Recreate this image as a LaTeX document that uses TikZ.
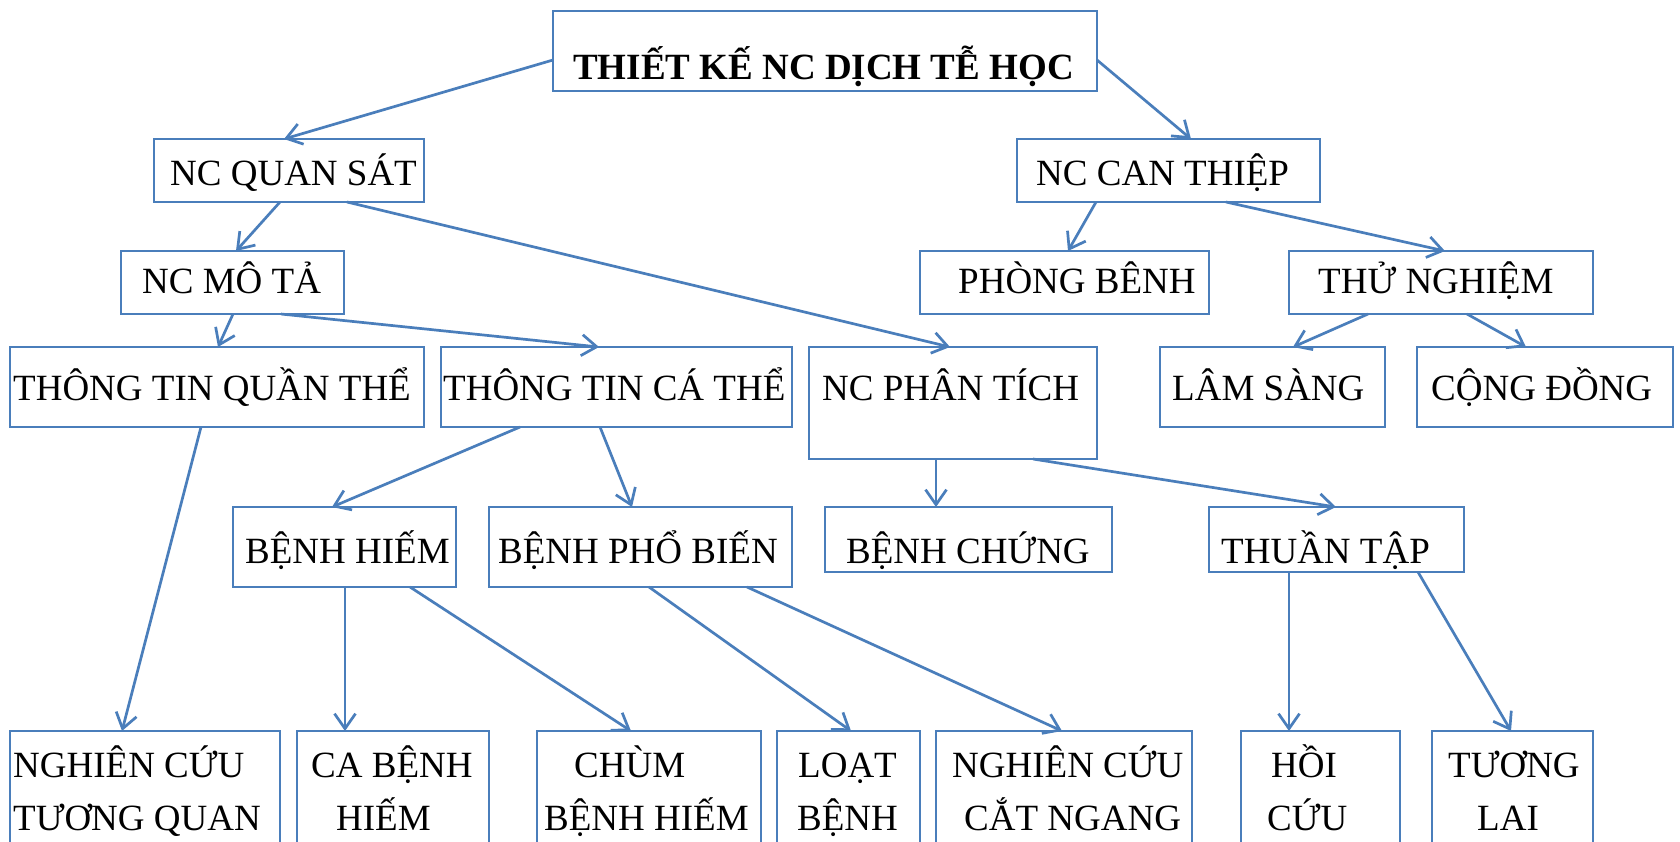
\documentclass[tikz,border=0pt]{standalone}
\usepackage{fontspec}
\setmainfont{Liberation Serif}
\usetikzlibrary{arrows.meta,calc}
\definecolor{ln}{HTML}{4A7EBB}
\newcommand\mkbox[5]{\node[bx, minimum width=#4, minimum height=#5] (#1) at (#2,#3) {};}
\begin{document}
\begin{tikzpicture}[x=1pt,y=-1pt,
  bx/.style={draw=ln, line width=2.9pt, rectangle, inner sep=0pt, outer sep=0pt, anchor=north west},
  txt/.style={inner sep=0pt, anchor=base west, font=\fontsize{37}{44}\selectfont},
  arr/.style={draw=ln, line width=2.7pt, -{Straight Barb[length=15pt,width=21pt]}}]
\useasboundingbox[fill=white] (0,0) rectangle (1680,841);
% boxes
\mkbox{title}{553}{11}{544}{80}
\mkbox{qs}{154}{139}{270}{63}
\mkbox{ct}{1017}{139}{303}{63}
\mkbox{mt}{121}{251}{223}{63}
\mkbox{pb}{920}{251}{289}{63}
\mkbox{tn}{1289}{251}{304}{63}
\mkbox{qt}{10}{347}{414}{80}
\mkbox{ca}{441}{347}{351}{80}
\mkbox{pt}{809}{347}{288}{112}
\mkbox{ls}{1160}{347}{225}{80}
\mkbox{cd}{1417}{347}{256}{80}
\mkbox{bh}{233}{507}{223}{80}
\mkbox{bpb}{489}{507}{303}{80}
\mkbox{bc}{825}{507}{287}{65}
\mkbox{tt}{1209}{507}{255}{65}
\mkbox{tq}{10}{731}{270}{159}
\mkbox{cbh}{297}{731}{192}{159}
\mkbox{chum}{537}{731}{224}{159}
\mkbox{loat}{777}{731}{143}{159}
\mkbox{cn}{936}{731}{256}{159}
\mkbox{hc}{1241}{731}{159}{159}
\mkbox{tl}{1432}{731}{161}{159}
% texts
\node[txt,font=\fontsize{37}{44}\selectfont\bfseries] (ttitle) at (573,79) {THIẾT KẾ NC DỊCH TỄ HỌC};
\node[txt] (tqs) at (170,185) {NC QUAN SÁT};
\node[txt] (tct) at (1036,185) {NC CAN THIỆP};
\node[txt] (tmt) at (142,293) {NC MÔ TẢ};
\node[txt] (tpb) at (958,293) {PHÒNG BÊNH};
\node[txt] (ttn) at (1318,293) {THỬ NGHIỆM};
\node[txt] (tqt) at (13,400) {THÔNG TIN QUẦN THỂ};
\node[txt] (tca) at (443,400) {THÔNG TIN CÁ THỂ};
\node[txt] (tpt) at (822,400) {NC PHÂN TÍCH};
\node[txt] (tls) at (1172,400) {LÂM SÀNG};
\node[txt] (tcd) at (1431,400) {CỘNG ĐỒNG};
\node[txt] (tbh) at (245,563) {BỆNH HIẾM};
\node[txt] (tbpb) at (498,563) {BỆNH PHỔ BIẾN};
\node[txt] (tbc) at (846,563) {BỆNH CHỨNG};
\node[txt] (ttt) at (1221,563) {THUẦN TẬP};
\node[txt] (ttqa) at (13,777) {NGHIÊN CỨU};
\node[txt] (ttqb) at (13,830) {TƯƠNG QUAN};
\node[txt] (tcbha) at (311,777) {CA BỆNH};
\node[txt] (tcbhb) at (336,830) {HIẾM};
\node[txt] (tchuma) at (574,777) {CHÙM};
\node[txt] (tchumb) at (544,830) {BỆNH HIẾM};
\node[txt] (tloata) at (798,777) {LOẠT};
\node[txt] (tloatb) at (797,830) {BỆNH};
\node[txt] (tcna) at (952,777) {NGHIÊN CỨU};
\node[txt] (tcnb) at (964,830) {CẮT NGANG};
\node[txt] (thca) at (1271,777) {HỒI};
\node[txt] (thcb) at (1267,830) {CỨU};
\node[txt] (ttla) at (1448,777) {TƯƠNG};
\node[txt] (ttlb) at (1477,830) {LAI};
% connectors
\draw[arr] ($(title.north west)+(0,49)$) -- ($(qs.north west)+(130,0)$);
\draw[arr] ($(title.north east)+(0,49)$) -- ($(ct.north west)+(174,0)$);
\draw[arr] ($(qs.south west)+(126,0)$) -- ($(mt.north west)+(115,0)$);
\draw[arr] ($(qs.south west)+(193,0)$) -- ($(pt.north west)+(141,0)$);
\draw[arr] ($(mt.south west)+(112,0)$) -- ($(qt.north west)+(208,0)$);
\draw[arr] ($(mt.south west)+(160,0)$) -- ($(ca.north west)+(158,0)$);
\draw[arr] ($(ct.south west)+(79,0)$) -- ($(pb.north west)+(148,0)$);
\draw[arr] ($(ct.south west)+(209,0)$) -- ($(tn.north west)+(156,0)$);
\draw[arr] ($(tn.south west)+(79,0)$) -- ($(ls.north west)+(133,0)$);
\draw[arr] ($(tn.south west)+(178,0)$) -- ($(cd.north west)+(109,0)$);
\draw[arr] ($(qt.south west)+(191,0)$) -- ($(tq.north west)+(112,0)$);
\draw[arr] ($(ca.south west)+(79,0)$) -- ($(bh.north west)+(99,0)$);
\draw[arr] ($(ca.south west)+(159,0)$) -- ($(bpb.north west)+(143,0)$);
\draw[arr] ($(bh.south west)+(112,0)$) -- ($(cbh.north west)+(48,0)$);
\draw[arr] ($(bh.south west)+(177,0)$) -- ($(chum.north west)+(94,0)$);
\draw[arr] ($(bpb.south west)+(160,0)$) -- ($(loat.north west)+(74,0)$);
\draw[arr] ($(bpb.south west)+(258,0)$) -- ($(cn.north west)+(126,0)$);
\draw[arr] ($(pt.south west)+(127,0)$) -- ($(bc.north west)+(111,0)$);
\draw[arr] ($(pt.south west)+(224,0)$) -- ($(tt.north west)+(127,0)$);
\draw[arr] ($(tt.south west)+(80,0)$) -- ($(hc.north west)+(48,0)$);
\draw[arr] ($(tt.south west)+(209,0)$) -- ($(tl.north west)+(79,0)$);
\end{tikzpicture}
\end{document}
